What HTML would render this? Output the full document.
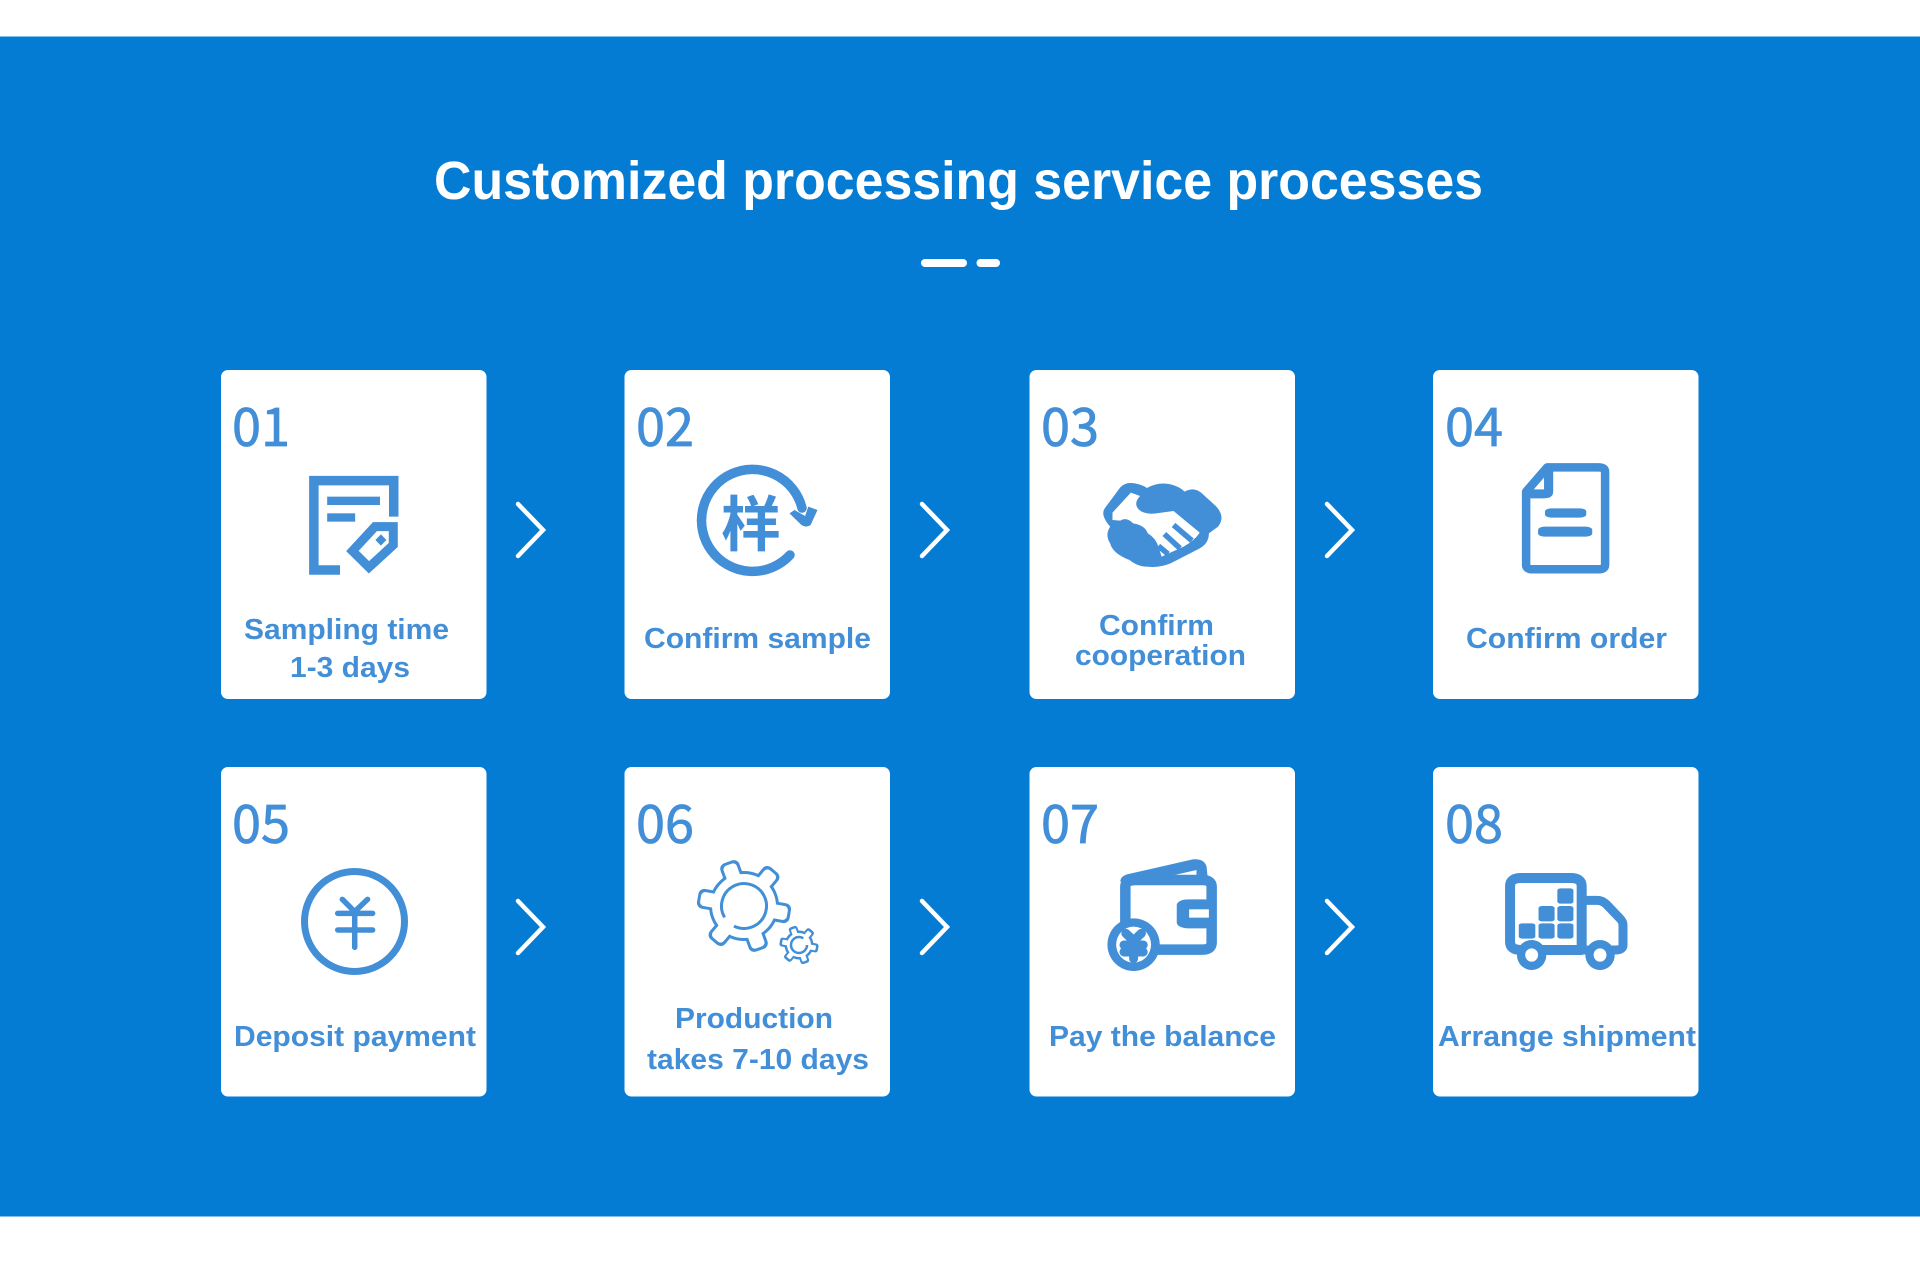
<!DOCTYPE html>
<html><head><meta charset="utf-8"><style>
html,body{margin:0;padding:0;background:#fff}
svg{display:block}
.s{fill:none;stroke:#428fd8;vector-effect:non-scaling-stroke}
.l{font:bold 29px "Liberation Sans",sans-serif;fill:#428fd8}
.n{font:400 53px "Noto Sans CJK JP","Liberation Sans",sans-serif;fill:#428fd8;stroke:#428fd8;stroke-width:.8}
.c{fill:none;stroke:#fff;stroke-width:4.5;stroke-linecap:round;stroke-linejoin:miter}
.b{fill:#428fd8}.w{fill:#fff}
</style></head><body>
<svg width="1920" height="1265" viewBox="0 0 1920 1265" xmlns="http://www.w3.org/2000/svg">
<rect width="1920" height="1265" fill="#fff"/>
<rect y="36.500" width="1920" height="1180" fill="#057cd3"/>
<text x="434" y="199" font-family="Liberation Sans,sans-serif" font-weight="bold" font-size="54" fill="#fff" textLength="1049" lengthAdjust="spacingAndGlyphs">Customized processing service processes</text>
<rect x="921" y="259" width="46" height="8" rx="4" fill="#fff"/>
<rect x="976.500" y="259" width="23.500" height="8" rx="4" fill="#fff"/>

<!-- cards -->
<g fill="#fff">
<rect x="221" y="370" width="265.500" height="329" rx="7"/>
<rect x="624.500" y="370" width="265.500" height="329" rx="7"/>
<rect x="1029.500" y="370" width="265.500" height="329" rx="7"/>
<rect x="1433" y="370" width="265.500" height="329" rx="7"/>
<rect x="221" y="767" width="265.500" height="329.500" rx="7"/>
<rect x="624.500" y="767" width="265.500" height="329.500" rx="7"/>
<rect x="1029.500" y="767" width="265.500" height="329.500" rx="7"/>
<rect x="1433" y="767" width="265.500" height="329.500" rx="7"/>
</g>

<!-- chevrons -->
<path class="c" d="M518 504 L543 530 L518 556"/>
<path class="c" d="M922 504 L947 530 L922 556"/>
<path class="c" d="M1327 504 L1352 530 L1327 556"/>
<path class="c" d="M518 901 L543 927 L518 953"/>
<path class="c" d="M922 901 L947 927 L922 953"/>
<path class="c" d="M1327 901 L1352 927 L1327 953"/>

<!-- numbers -->
<text class="n" x="232" y="446" textLength="58" lengthAdjust="spacingAndGlyphs">01</text>
<text class="n" x="636" y="446" textLength="58" lengthAdjust="spacingAndGlyphs">02</text>
<text class="n" x="1041" y="446" textLength="58" lengthAdjust="spacingAndGlyphs">03</text>
<text class="n" x="1445" y="446" textLength="58" lengthAdjust="spacingAndGlyphs">04</text>
<text class="n" x="232" y="843" textLength="58" lengthAdjust="spacingAndGlyphs">05</text>
<text class="n" x="636" y="843" textLength="58" lengthAdjust="spacingAndGlyphs">06</text>
<text class="n" x="1041" y="843" textLength="58" lengthAdjust="spacingAndGlyphs">07</text>
<text class="n" x="1445" y="843" textLength="58" lengthAdjust="spacingAndGlyphs">08</text>

<!-- labels -->
<text class="l" x="244" y="639" textLength="205" lengthAdjust="spacingAndGlyphs">Sampling time</text>
<text class="l" x="290" y="677" textLength="120" lengthAdjust="spacingAndGlyphs">1-3 days</text>
<text class="l" x="644" y="648" textLength="227" lengthAdjust="spacingAndGlyphs">Confirm sample</text>
<text class="l" x="1099" y="635" textLength="115" lengthAdjust="spacingAndGlyphs">Confirm</text>
<text class="l" x="1075" y="665" textLength="171" lengthAdjust="spacingAndGlyphs">cooperation</text>
<text class="l" x="1466" y="648" textLength="201" lengthAdjust="spacingAndGlyphs">Confirm order</text>
<text class="l" x="234" y="1046" textLength="242" lengthAdjust="spacingAndGlyphs">Deposit payment</text>
<text class="l" x="675" y="1028" textLength="158" lengthAdjust="spacingAndGlyphs">Production</text>
<text class="l" x="647" y="1069" textLength="222" lengthAdjust="spacingAndGlyphs">takes 7-10 days</text>
<text class="l" x="1049" y="1046" textLength="227" lengthAdjust="spacingAndGlyphs">Pay the balance</text>
<text class="l" x="1438" y="1046" textLength="258" lengthAdjust="spacingAndGlyphs">Arrange shipment</text>

<!-- icon 1 -->
<g transform="translate(200,350) scale(.4591,.3333)">
<path class="s" stroke-width="9.500" d="M422 500 V392 H248 V660 H305"/>
<rect class="b" x="277" y="440" width="115" height="25"/>
<rect class="b" x="277" y="490" width="61" height="25"/>
<path class="s" stroke-width="9" stroke-linejoin="miter" d="M381 530 L421 530 L421 585 L368 652 L332 603 Z"/>
<path class="b" d="M394 553 L406 570 L394 587 L382 570 Z"/>
</g>

<!-- icon 2 -->
<path class="s" stroke-width="9.500" stroke-linecap="round" d="M802 508 A51 51 0 1 0 790 555"/>
<g transform="translate(200,350) scale(.4591,.3333)">
<path class="b" d="M1284 490 L1295 480 L1318 498 L1325 470 L1345 480 L1330 525 Q1320 535 1310 525 Z"/>
</g>
<text x="751" y="546" text-anchor="middle" font-family="Noto Sans CJK SC,sans-serif" font-weight="700" font-size="60" fill="#428fd8">样</text>

<!-- icon 3 handshake -->
<g transform="translate(1000,350) scale(.4591,.3333)">
<path class="b" d="M285 399 Q305 400 320 414 Q345 395 372 403 Q392 410 402 425 Q422 410 438 428 L470 468 Q492 500 475 530 L455 550 Q455 580 435 595 L372 640 Q345 655 320 650 Q300 650 282 630 Q245 610 240 580 Q228 555 240 530 Q218 495 228 475 L262 412 Q272 398 285 399Z"/>
<path class="w" d="M285 428 L305 438 Q290 460 302 478 Q315 495 340 490 L378 483 L435 548 Q425 570 400 590 L352 620 L345 590 Q340 565 322 550 Q315 525 290 520 Q275 500 262 512 L245 510 L245 488 Z"/>
<path class="s" stroke-width="5.500" d="M378 525 L418 572 M358 552 L392 595 M345 588 L366 612"/>
</g>

<!-- icon 4 doc -->
<g transform="translate(1000,350) scale(.4591,.3333)">
<path class="s" stroke-width="8.500" stroke-linejoin="round" d="M1192 352 H1303 Q1318 352 1318 365 V645 Q1318 658 1303 658 H1160 Q1146 658 1146 645 V425 Z"/>
<path class="b" d="M1185 352 H1205 V425 Q1205 445 1185 445 H1146 V418 H1185 Z"/>
<rect class="b" x="1187" y="475" width="90" height="28" rx="14" ry="10"/>
<rect class="b" x="1172" y="530" width="118" height="30" rx="14" ry="10"/>
</g>

<!-- icon 5 yen -->
<circle cx="354.500" cy="921.500" r="50" fill="none" stroke="#428fd8" stroke-width="7"/>
<g transform="translate(200,750) scale(.4591,.3333)">
<path class="s" stroke-width="5.500" stroke-linecap="round" stroke-linejoin="round" d="M310 448 L337 485 L365 448 M337 485 V592 M300 490 H376 M300 540 H376"/>
</g>

<!-- icon 6 gears -->
<g>
<g transform="translate(744,906)">
<g class="b">
<circle r="35"/>
<rect x="-10" y="-47" width="20" height="24" rx="6" transform="rotate(-20)"/>
<rect x="-10" y="-47" width="20" height="24" rx="6" transform="rotate(40)"/>
<rect x="-10" y="-47" width="20" height="24" rx="6" transform="rotate(100)"/>
<rect x="-10" y="-47" width="20" height="24" rx="6" transform="rotate(160)"/>
<rect x="-10" y="-47" width="20" height="24" rx="6" transform="rotate(220)"/>
<rect x="-10" y="-47" width="20" height="24" rx="6" transform="rotate(280)"/>
</g>
<g class="w">
<circle r="32"/>
<rect x="-7" y="-44" width="14" height="24" rx="4" transform="rotate(-20)"/>
<rect x="-7" y="-44" width="14" height="24" rx="4" transform="rotate(40)"/>
<rect x="-7" y="-44" width="14" height="24" rx="4" transform="rotate(100)"/>
<rect x="-7" y="-44" width="14" height="24" rx="4" transform="rotate(160)"/>
<rect x="-7" y="-44" width="14" height="24" rx="4" transform="rotate(220)"/>
<rect x="-7" y="-44" width="14" height="24" rx="4" transform="rotate(280)"/>
</g>
<circle r="22.500" fill="none" stroke="#428fd8" stroke-width="3" stroke-dasharray="128 13" transform="rotate(150)"/>
</g>
<g transform="translate(799,945)">
<g class="b">
<circle r="14.500"/>
<rect x="-4.500" y="-19.500" width="9" height="10" rx="2.500" transform="rotate(-20)"/>
<rect x="-4.500" y="-19.500" width="9" height="10" rx="2.500" transform="rotate(40)"/>
<rect x="-4.500" y="-19.500" width="9" height="10" rx="2.500" transform="rotate(100)"/>
<rect x="-4.500" y="-19.500" width="9" height="10" rx="2.500" transform="rotate(160)"/>
<rect x="-4.500" y="-19.500" width="9" height="10" rx="2.500" transform="rotate(220)"/>
<rect x="-4.500" y="-19.500" width="9" height="10" rx="2.500" transform="rotate(280)"/>
</g>
<g class="w">
<circle r="12"/>
<rect x="-2.500" y="-17" width="5" height="9" rx="1" transform="rotate(-20)"/>
<rect x="-2.500" y="-17" width="5" height="9" rx="1" transform="rotate(40)"/>
<rect x="-2.500" y="-17" width="5" height="9" rx="1" transform="rotate(100)"/>
<rect x="-2.500" y="-17" width="5" height="9" rx="1" transform="rotate(160)"/>
<rect x="-2.500" y="-17" width="5" height="9" rx="1" transform="rotate(220)"/>
<rect x="-2.500" y="-17" width="5" height="9" rx="1" transform="rotate(280)"/>
</g>
<circle r="8" fill="none" stroke="#428fd8" stroke-width="2.500" stroke-dasharray="42 8"/>
</g>
</g>

<!-- icon 7 wallet -->
<g transform="translate(1000,750) scale(.4591,.3333)">
<path class="b" d="M262 395 Q262 378 280 372 L420 328 Q445 325 450 350 L452 378 L428 375 L428 360 L380 375 L262 395 Z"/>
<path class="s" stroke-width="10.500" stroke-linejoin="round" d="M273 540 V410 Q273 390 295 390 H440 Q461 390 461 410 V578 Q461 599 440 599 H340"/>
<rect class="b" x="385" y="448" width="85" height="87" rx="25" ry="17"/>
<rect class="w" x="412" y="478" width="43" height="25"/>
<ellipse class="b" cx="291" cy="584" rx="57" ry="79"/>
<ellipse class="w" cx="291" cy="584" rx="38" ry="54"/>
<path class="s" stroke-width="9" stroke-linecap="round" stroke-linejoin="round" d="M274 550 L291 572 L308 550 M291 572 V626 M270 585 H312 M270 606 H312"/>
</g>

<!-- icon 8 truck -->
<g transform="translate(1000,750) scale(.4591,.3333)">
<path class="s" stroke-width="10" stroke-linejoin="round" d="M1111 408 Q1111 384 1135 384 H1243 Q1267 384 1267 408 V600 H1135 Q1111 600 1111 576 Z"/>
<path class="s" stroke-width="9" stroke-linejoin="round" d="M1267 451 H1300 Q1312 451 1320 462 L1350 505 Q1357 515 1357 525 V585 Q1357 600 1340 600 H1267"/>
<g class="b">
<rect x="1130" y="520" width="36" height="46" rx="8" ry="6"/>
<rect x="1173" y="520" width="35" height="46" rx="8" ry="6"/>
<rect x="1214" y="520" width="35" height="46" rx="8" ry="6"/>
<rect x="1173" y="468" width="35" height="46" rx="8" ry="6"/>
<rect x="1214" y="468" width="35" height="46" rx="8" ry="6"/>
<rect x="1214" y="415" width="35" height="46" rx="8" ry="6"/>
<ellipse cx="1158" cy="615" rx="32" ry="45"/>
<ellipse cx="1307" cy="615" rx="32" ry="45"/>
</g>
<ellipse class="w" cx="1158" cy="615" rx="14" ry="20"/>
<ellipse class="w" cx="1307" cy="615" rx="14" ry="20"/>
</g>
</svg>
</body></html>
